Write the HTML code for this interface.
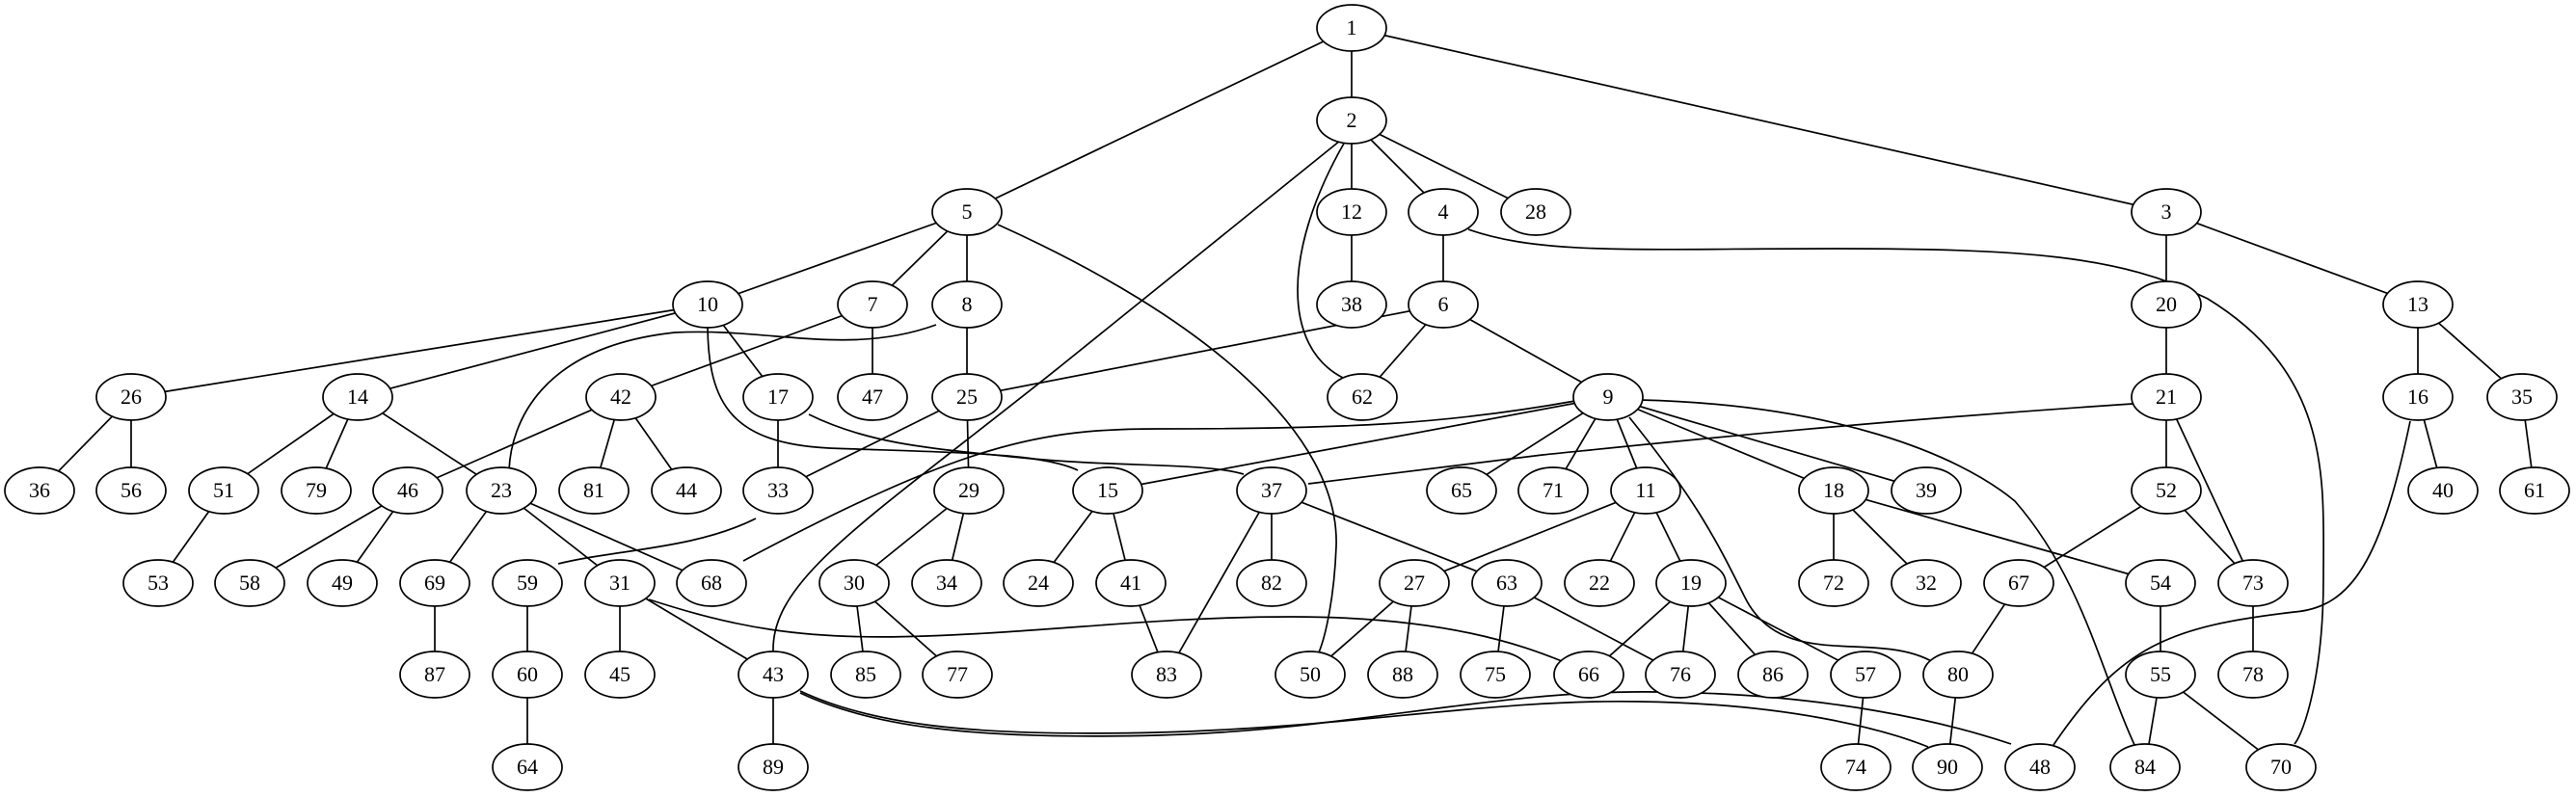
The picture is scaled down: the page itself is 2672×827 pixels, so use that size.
<!DOCTYPE html>
<html><head><meta charset="utf-8"><style>html,body{margin:0;padding:0;background:#fff}svg{display:block}</style></head>
<body>
<svg width="2672" height="827" viewBox="0 0 2672 827" xmlns="http://www.w3.org/2000/svg">
<g id="edges" stroke="#000" stroke-width="1.7" fill="none"></g>
<g id="nodes"></g>
</svg>
<script>
var N={1:[1402,29],2:[1402,125],12:[1402,220],4:[1497,220],28:[1593,220],5:[1003,220],3:[2247,220],
10:[734,316],7:[905,316],8:[1003,316],6:[1497,316],20:[2247,316],13:[2508,316],38:[1402,316],
26:[136,412],14:[371,412],42:[644,412],17:[807,412],47:[905,412],25:[1003,412],62:[1413,412],9:[1668,412],21:[2247,412],16:[2508,412],35:[2616,412],
36:[41,509],56:[136,509],51:[232,509],79:[328,509],46:[423,509],23:[520,509],81:[616,509],44:[712,509],33:[807,509],29:[1005,509],15:[1149,509],37:[1319,509],65:[1516,509],71:[1611,509],11:[1707,509],18:[1902,509],39:[1998,509],52:[2247,509],40:[2534,509],61:[2629,509],
53:[164,605],58:[259,605],49:[355,605],69:[451,605],59:[547,605],31:[643,605],68:[738,605],30:[886,605],34:[982,605],24:[1077,605],41:[1173,605],82:[1319,605],27:[1467,605],63:[1563,605],22:[1659,605],19:[1754,605],72:[1902,605],32:[1998,605],67:[2094,605],54:[2241,605],73:[2337,605],
87:[451,700],60:[547,700],45:[643,700],43:[802,700],85:[898,700],77:[993,700],83:[1210,700],50:[1359,700],88:[1455,700],75:[1551,700],66:[1648,700],76:[1743,700],86:[1839,700],57:[1935,700],80:[2031,700],55:[2241,700],78:[2337,700],
64:[547,796],89:[802,796],74:[1925,796],90:[2020,796],48:[2116,796],84:[2225,796],70:[2366,796]};
var E="1-5 1-2 1-3 2-12 2-4 2-28 5-10 5-7 5-8 3-20 3-13 4-6 12-38 10-26 10-14 10-17 7-42 7-47 8-25 6-25 6-62 6-9 20-21 13-16 13-35 26-36 26-56 14-51 14-79 14-23 42-46 42-81 42-44 17-33 25-33 25-29 9-15 9-65 9-71 9-11 9-18 9-39 21-52 21-73 16-40 35-61 51-53 46-58 46-49 23-69 23-31 23-68 29-30 29-34 15-24 15-41 37-82 37-83 37-63 11-27 11-22 11-19 18-72 18-32 18-54 52-67 52-73 69-87 59-60 31-45 31-43 30-85 30-77 41-83 27-50 27-88 63-75 63-76 19-66 19-76 19-86 19-57 67-80 54-55 73-78 60-64 43-89 57-74 80-90 55-84 55-70".split(" ");
var P=["M1395,147 C1330,260 1330,360 1393,392",
"M1390,146 L1100,380 C900,540 800,600 802,676",
"M1035,233 C1250,330 1390,450 1386,567 C1384,620 1375,660 1368,677",
"M1523,238 C1600,265 1700,258 1900,258 S2200,265 2290,310 C2420,390 2410,500 2410,600 C2410,700 2390,760 2380,772",
"M734,340 C735,420 760,460 860,465 C1000,470 1080,470 1118,488",
"M971,337 C880,370 800,340 700,345 C560,360 530,440 528,488",
"M839,430 C900,460 960,465 1060,475 C1160,485 1250,480 1290,492",
"M1634,416 C1500,440 1400,445 1200,445 C1080,445 1000,460 771,582",
"M1690,433 C1760,520 1780,560 1810,620 C1850,700 1950,650 2010,690",
"M1702,415 C1900,420 2030,470 2090,520 C2160,600 2180,700 2215,775",
"M2500,437 C2470,580 2440,630 2380,635 C2250,650 2200,670 2130,773",
"M784,538 C720,570 640,570 579,585",
"M673,622 C760,650 830,665 960,660 C1100,655 1200,640 1340,640 C1500,640 1580,670 1620,686",
"M830,717 C900,750 1000,765 1200,760 C1400,755 1550,725 1700,728 C1850,730 1950,755 2000,775",
"M830,719 C900,752 1000,768 1200,763 C1400,758 1550,715 1720,718 C1900,720 2020,750 2086,772",
"M2212,419 C1900,440 1700,462 1600,472 L1357,502"];
var ns="http://www.w3.org/2000/svg",eg=document.getElementById("edges"),ng=document.getElementById("nodes");
E.forEach(function(e){var a=e.split("-"),p=N[a[0]],q=N[a[1]];if(!p||!q)return;var l=document.createElementNS(ns,"line");l.setAttribute("x1",p[0]);l.setAttribute("y1",p[1]);l.setAttribute("x2",q[0]);l.setAttribute("y2",q[1]);eg.appendChild(l);});
P.forEach(function(d){var p=document.createElementNS(ns,"path");p.setAttribute("d",d);eg.appendChild(p);});
for(var k in N){var c=N[k];var el=document.createElementNS(ns,"ellipse");el.setAttribute("cx",c[0]);el.setAttribute("cy",c[1]);el.setAttribute("rx",36);el.setAttribute("ry",24);el.setAttribute("fill","#fff");el.setAttribute("stroke","#000");el.setAttribute("stroke-width","1.7");ng.appendChild(el);
var t=document.createElementNS(ns,"text");t.setAttribute("x",c[0]);t.setAttribute("y",c[1]+7);t.setAttribute("text-anchor","middle");t.setAttribute("font-family","Liberation Serif, serif");t.setAttribute("font-size","22");t.textContent=k;ng.appendChild(t);}
</script>
</body></html>
